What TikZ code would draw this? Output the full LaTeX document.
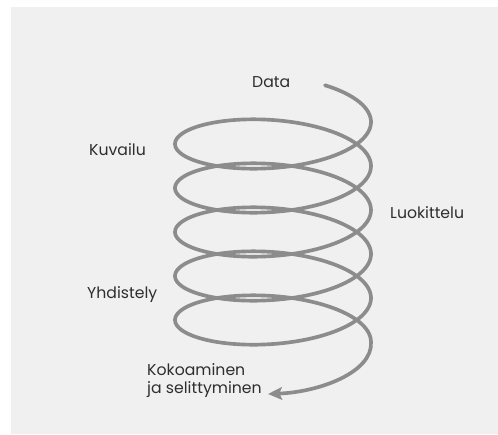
\documentclass[tikz,border=0pt]{standalone}
\usepackage{fontspec}
\setmainfont{Poppins}
\usepackage{xcolor}
\usepackage{tikz}
\usetikzlibrary{arrows.meta}

\definecolor{spiralgray}{HTML}{8C8C8C}
\definecolor{bggray}{HTML}{F0F0F0}
\definecolor{textgray}{HTML}{2E2E2E}

\begin{document}
\begin{tikzpicture}[x=0.03cm, y=-0.03cm]
			\useasboundingbox (0, 0) rectangle (498, 434);
			\fill[bggray] (11, 7) rectangle (498, 434);
			
			\begin{scope}[
				stage/.style={anchor=base west, inner sep=0pt, text=textgray, align=left, font=\fontsize{13.4}{14.6}\selectfont}]
				\node[stage] (data) at (252, 87) {Data};
				\node[stage] (kuvailu) at (89, 155) {Kuvailu};
				\node[stage] (luokittelu) at (390, 218) {Luokittelu};
				\node[stage] (yhdistely) at (87, 298) {Yhdistely};
				\node[stage] (kokoaminen) at (147, 393) {Kokoaminen\\ja selittyminen};
			\end{scope}
			
			\coordinate (start) at ({273+98*cos(-58)}, {122+35*sin(-58)-58*0.12222});
			\coordinate (tip) at (268, 394);
			
			\draw[spiralgray, line width=0.11cm, line cap=round, -{Stealth[length=0.42cm, width=0.38cm, inset=0.08cm]}] (start) -- plot[domain=-58:1800, samples=500] ({273+98*cos(\x)}, {122+35*sin(\x)+\x*0.12222}) .. controls (373, 372) and (320, 392) .. (tip);
		\end{tikzpicture}
\end{document}
